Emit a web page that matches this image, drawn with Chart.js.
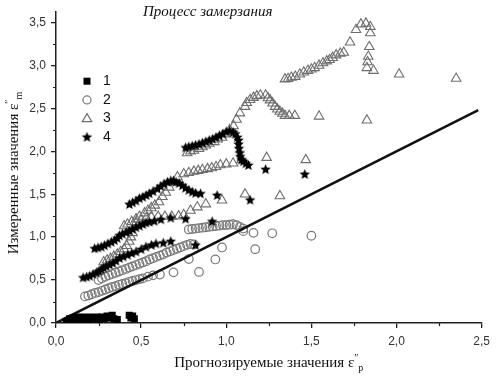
<!DOCTYPE html>
<html>
<head>
<meta charset="utf-8">
<script src="https://cdn.jsdelivr.net/npm/chart.js@4.4.0/dist/chart.umd.min.js"></script>
<style>
  html, body { margin: 0; padding: 0; background: #fff; }
  #wrap { width: 496px; height: 376px; }
</style>
</head>
<body>
<div id="wrap"><canvas id="chart" width="496" height="376"></canvas></div>
<script>
// --- DATOS ---
const xTicks = [0, 0.5, 1.0, 1.5, 2.0, 2.5];
const yTicks = [0, 0.5, 1.0, 1.5, 2.0, 2.5, 3.0, 3.5];
const seriesLabels = ['1', '2', '3', '4'];

// Serie 1 — cuadrados negros
const s1X = [0.06,0.07,0.08,0.09,0.10,0.11,0.12,0.13,0.14,0.15,0.16,0.17,0.18,0.19,0.20,0.21,0.22,0.23,0.24,0.25,0.26,0.27,0.28,0.29,0.30,0.31,0.32,0.33,0.34,0.36,0.43,0.44,0.45,0.46];
const s1Y = [0.02,0.03,0.05,0.04,0.06,0.04,0.07,0.05,0.06,0.04,0.07,0.05,0.06,0.04,0.07,0.05,0.06,0.05,0.07,0.04,0.06,0.07,0.05,0.06,0.08,0.06,0.07,0.09,0.05,0.04,0.09,0.06,0.08,0.05];

// Serie 2 — círculos
const s2X = [
  0.17,0.19,0.21,0.23,0.25,0.27,0.29,0.31,0.33,0.35,0.37,0.39,0.41,0.43,0.45,0.47,0.49,0.51,0.54,0.57,0.61,0.69,0.84,
  0.25,0.27,0.29,0.31,0.33,0.35,0.37,0.39,0.41,0.43,0.45,0.47,0.49,0.51,0.53,0.55,0.57,0.59,0.61,0.63,0.65,0.67,0.69,0.71,0.73,0.75,0.77,0.79,0.81,
  0.78,0.80,0.82,0.84,0.86,0.88,0.90,0.92,0.94,0.96,0.98,1.00,1.02,1.04,1.06,1.08,1.10,
  0.78,0.936,0.975,1.10,1.16,1.27,1.50,1.17
];
const s2Y = [
  0.31,0.32,0.335,0.35,0.36,0.375,0.39,0.405,0.42,0.43,0.445,0.455,0.465,0.48,0.49,0.50,0.51,0.52,0.54,0.555,0.565,0.59,0.595,
  0.50,0.52,0.54,0.555,0.57,0.585,0.60,0.615,0.63,0.645,0.66,0.675,0.69,0.705,0.72,0.74,0.755,0.77,0.785,0.80,0.82,0.835,0.85,0.865,0.88,0.895,0.91,0.92,0.915,
  1.09,1.095,1.10,1.105,1.11,1.115,1.12,1.125,1.13,1.135,1.14,1.14,1.145,1.15,1.14,1.12,1.10,
  0.745,0.74,0.88,1.07,1.05,1.045,1.016,0.86
];

// Serie 3 — triángulos
const s3X = [
  0.28,0.30,0.32,0.34,0.36,0.38,0.40,0.415,0.43,0.44,0.45,
  0.47,0.50,0.53,0.56,0.60,0.64,0.68,0.72,0.75,0.79,0.83,0.88,0.975,1.11,1.315,
  0.40,0.42,0.445,0.47,0.49,0.52,0.54,0.56,0.58,0.605,0.625,0.645,0.665,0.69,0.713,0.75,0.78,0.81,0.835,0.86,0.89,0.915,0.94,0.965,1.0,1.04,1.09,
  0.77,0.79,0.81,0.84,0.86,0.88,0.90,0.93,0.95,0.975,1.0,1.02,1.043,1.06,1.08,1.11,1.12,1.14,1.16,1.18,1.20,1.231,1.245,1.257,1.272,1.286,1.30,1.315,1.33,1.345,1.37,1.403,1.545,1.826,
  1.345,1.363,1.383,1.405,1.432,1.455,1.48,1.50,1.519,1.545,1.568,1.59,1.607,1.625,1.645,1.67,1.69,1.727,1.762,1.791,1.82,1.846,1.846,1.84,1.834,1.83,1.826,1.865,2.015,2.35,
  1.237,1.467
];
const s3Y = [
  0.71,0.73,0.75,0.775,0.80,0.83,0.86,0.90,0.95,1.00,1.05,
  1.17,1.20,1.22,1.235,1.24,1.24,1.24,1.245,1.26,1.31,1.35,1.385,1.43,1.50,1.48,
  1.13,1.15,1.18,1.21,1.24,1.28,1.31,1.34,1.37,1.41,1.47,1.52,1.58,1.64,1.70,1.735,1.75,1.765,1.775,1.785,1.795,1.805,1.82,1.84,1.85,1.86,1.90,
  1.98,2.0,2.01,2.03,2.05,2.07,2.09,2.11,2.14,2.16,2.2,2.25,2.295,2.37,2.445,2.52,2.565,2.6,2.625,2.645,2.652,2.652,2.62,2.596,2.56,2.52,2.49,2.464,2.44,2.415,2.415,2.415,2.407,2.362,
  2.84,2.845,2.859,2.87,2.897,2.92,2.94,2.955,2.972,3.0,3.028,3.05,3.066,3.09,3.12,3.14,3.15,3.27,3.415,3.48,3.49,3.45,3.378,3.217,3.104,3.04,2.972,2.94,2.897,2.848,
  1.926,1.90
];

// Serie 4 — estrellas
const s4X = [
  0.159,0.18,0.198,0.218,0.237,0.252,0.266,0.28,0.295,0.315,0.334,0.353,0.373,0.395,0.421,0.445,0.47,0.50,0.528,0.56,0.587,0.63,0.674,0.82,
  0.227,0.247,0.266,0.285,0.305,0.325,0.344,0.36,0.373,0.39,0.412,0.43,0.45,0.47,0.49,0.51,0.528,0.548,0.577,0.616,0.674,0.761,0.917,
  0.431,0.45,0.47,0.49,0.51,0.53,0.548,0.57,0.596,0.615,0.635,0.655,0.674,0.69,0.705,0.723,0.742,0.76,0.78,0.80,0.82,0.849,0.946,1.14,
  0.761,0.78,0.80,0.82,0.84,0.86,0.88,0.90,0.92,0.94,0.96,0.98,1.0,1.02,1.04,1.053,1.065,1.072,1.072,1.075,1.08,1.082,1.09,1.10,1.115,1.13,
  1.231,1.461
];
const s4Y = [
  0.526,0.535,0.545,0.565,0.583,0.60,0.62,0.64,0.658,0.675,0.695,0.72,0.752,0.77,0.79,0.81,0.827,0.855,0.884,0.905,0.921,0.93,0.948,0.905,
  0.865,0.875,0.884,0.90,0.921,0.94,0.959,0.985,1.016,1.035,1.053,1.07,1.09,1.11,1.128,1.147,1.166,1.174,1.185,1.203,1.222,1.21,1.18,
  1.38,1.40,1.42,1.448,1.465,1.485,1.504,1.53,1.56,1.59,1.617,1.64,1.655,1.65,1.64,1.625,1.60,1.57,1.545,1.525,1.51,1.504,1.485,1.43,
  2.04,2.05,2.06,2.07,2.08,2.095,2.11,2.125,2.14,2.16,2.18,2.2,2.225,2.235,2.22,2.2,2.16,2.125,2.08,2.03,1.98,1.937,1.90,1.88,1.855,1.835,
  1.787,1.73
];

// Recta y = x
const lineX = [0, 2.48];
const lineY = [0, 2.48];

const toPoints = (xs, ys) => xs.map((x, i) => ({ x, y: ys[i] }));
const fmt = (v) => v.toFixed(1).replace('.', ',');

// --- ESTILOS ---
const GRAY_CIRCLE = '#7a7a7a';
const GRAY_TRI = '#6e6e6e';
const AXIS = '#222';

function makeStar(r, color) {
    const size = Math.ceil(r * 2 + 2);
    const c = document.createElement('canvas');
    c.width = size; c.height = size;
    const g = c.getContext('2d');
    g.fillStyle = color;
    g.beginPath();
    for (let i = 0; i < 10; i++) {
        const rad = i % 2 ? r * 0.45 : r;
        const a = -Math.PI / 2 + i * Math.PI / 5;
        const px = size / 2 + rad * Math.cos(a);
        const py = size / 2 + rad * Math.sin(a);
        if (i) g.lineTo(px, py); else g.moveTo(px, py);
    }
    g.closePath();
    g.fill();
    return c;
}
const starImg = makeStar(5.5, '#000');

// --- PLUGINS ---
// marcas menores cada 0,25
const minorTicks = {
    id: 'minorTicks',
    afterDraw(chart) {
        const { ctx, chartArea, scales } = chart;
        ctx.save();
        ctx.strokeStyle = AXIS;
        ctx.lineWidth = 1.2;
        ctx.beginPath();
        for (let v = 0.25; v < 2.5; v += 0.5) {
            const px = Math.round(scales.x.getPixelForValue(v)) + 0.5;
            ctx.moveTo(px, chartArea.bottom);
            ctx.lineTo(px, chartArea.bottom + 3);
        }
        for (let v = 0.25; v < 3.5; v += 0.5) {
            const py = Math.round(scales.y.getPixelForValue(v)) + 0.5;
            ctx.moveTo(chartArea.left, py);
            ctx.lineTo(chartArea.left - 3, py);
        }
        ctx.stroke();
        ctx.restore();
    }
};

// texto con superíndice y subíndice
function drawRich(ctx, parts, cx, cy) {
    let total = 0;
    parts.forEach(p => { ctx.font = p.font; p.w = ctx.measureText(p.t).width; total += p.w; });
    let x = cx - total / 2;
    parts.forEach(p => {
        ctx.font = p.font;
        ctx.fillText(p.t, x, cy + (p.dy || 0));
        x += p.w;
    });
}

const extras = {
    id: 'extras',
    afterDraw(chart) {
        const { ctx, chartArea } = chart;
        const L = chartArea.left, T = chartArea.top;
        ctx.save();
        ctx.fillStyle = '#111';
        ctx.textBaseline = 'middle';
        ctx.textAlign = 'left';

        // título interno
        ctx.font = 'italic 15px "Liberation Serif"';
        ctx.fillText('Процесс замерзания', 143, 12);

        // leyenda
        const lx = L + 31, ly = T + 69, step = 18.7;
        ctx.font = '14px "Liberation Sans"';
        seriesLabels.forEach((lab, i) => {
            ctx.fillStyle = '#111';
            ctx.fillText(lab, L + 47, ly + i * step);
        });
        ctx.fillStyle = '#000';
        ctx.fillRect(lx - 3.5, ly - 3.5, 7, 7);
        ctx.lineWidth = 1.2;
        ctx.strokeStyle = GRAY_CIRCLE;
        ctx.beginPath();
        ctx.arc(lx, ly + step, 4, 0, Math.PI * 2);
        ctx.stroke();
        ctx.strokeStyle = GRAY_TRI;
        const ty = ly + 2 * step;
        ctx.beginPath();
        ctx.moveTo(lx, ty - 5);
        ctx.lineTo(lx + 4.8, ty + 3);
        ctx.lineTo(lx - 4.8, ty + 3);
        ctx.closePath();
        ctx.stroke();
        ctx.drawImage(starImg, lx - starImg.width / 2, ly + 3 * step - starImg.height / 2);

        // títulos de ejes
        ctx.fillStyle = '#111';
        ctx.textBaseline = 'alphabetic';
        const base = '15px "Liberation Serif"';
        const small = '10px "Liberation Serif"';
        drawRich(ctx, [
            { t: 'Прогнозируемые значения ε', font: base },
            { t: '\u2033', font: small, dy: -6 },
            { t: 'p', font: small, dy: 4 }
        ], (chartArea.left + chartArea.right) / 2, 367);

        ctx.translate(18, 173);
        ctx.rotate(-Math.PI / 2);
        drawRich(ctx, [
            { t: 'Измеренные значения ε', font: base },
            { t: '\u2033', font: small, dy: -6 },
            { t: 'm', font: small, dy: 4 }
        ], 0, 0);
        ctx.restore();
    }
};

// --- GRÁFICA ---
const tickFont = { family: '"Liberation Sans", Arial, sans-serif', size: 12 };

new Chart(document.getElementById('chart').getContext('2d'), {
    type: 'scatter',
    data: {
        datasets: [
            {
                label: seriesLabels[3],
                data: toPoints(s4X, s4Y),
                pointStyle: starImg,
                order: 0
            },
            {
                label: seriesLabels[0],
                data: toPoints(s1X, s1Y),
                pointStyle: 'rect',
                pointRadius: 5,
                backgroundColor: '#000',
                borderColor: '#000',
                borderWidth: 0,
                order: 1
            },
            {
                label: 'y = x',
                type: 'line',
                data: toPoints(lineX, lineY),
                borderColor: '#111',
                borderWidth: 2.5,
                pointRadius: 0,
                fill: false,
                order: 2
            },
            {
                label: seriesLabels[2],
                data: toPoints(s3X, s3Y),
                pointStyle: 'triangle',
                pointRadius: 5.5,
                backgroundColor: 'rgba(255,255,255,0)',
                borderColor: GRAY_TRI,
                borderWidth: 1.1,
                order: 3
            },
            {
                label: seriesLabels[1],
                data: toPoints(s2X, s2Y),
                pointStyle: 'circle',
                pointRadius: 4.3,
                backgroundColor: 'rgba(255,255,255,0)',
                borderColor: GRAY_CIRCLE,
                borderWidth: 1.2,
                order: 4
            }
        ]
    },
    options: {
        responsive: false,
        animation: false,
        events: [],
        layout: { padding: { top: 3, right: 11, left: 0, bottom: 0 } },
        plugins: {
            legend: { display: false },
            tooltip: { enabled: false }
        },
        scales: {
            x: {
                type: 'linear',
                min: 0,
                max: 2.5,
                afterBuildTicks: (scale) => { scale.ticks = xTicks.map(v => ({ value: v })); },
                afterFit: (scale) => { scale.height = 53; },
                ticks: { callback: (v) => fmt(v), font: tickFont, color: '#333', padding: 6, maxRotation: 0 },
                grid: { drawOnChartArea: false, tickLength: 5, color: AXIS, lineWidth: 1.3 },
                border: { color: AXIS, width: 1.5 }
            },
            y: {
                type: 'linear',
                min: 0,
                max: 3.62,
                afterBuildTicks: (scale) => { scale.ticks = yTicks.map(v => ({ value: v })); },
                afterFit: (scale) => { scale.width = 56; },
                ticks: { callback: (v) => fmt(v), font: tickFont, color: '#333', padding: 5 },
                grid: { drawOnChartArea: false, tickLength: 5, color: AXIS, lineWidth: 1.3 },
                border: { color: AXIS, width: 1.5 }
            }
        }
    },
    plugins: [minorTicks, extras]
});
</script>
</body>
</html>
